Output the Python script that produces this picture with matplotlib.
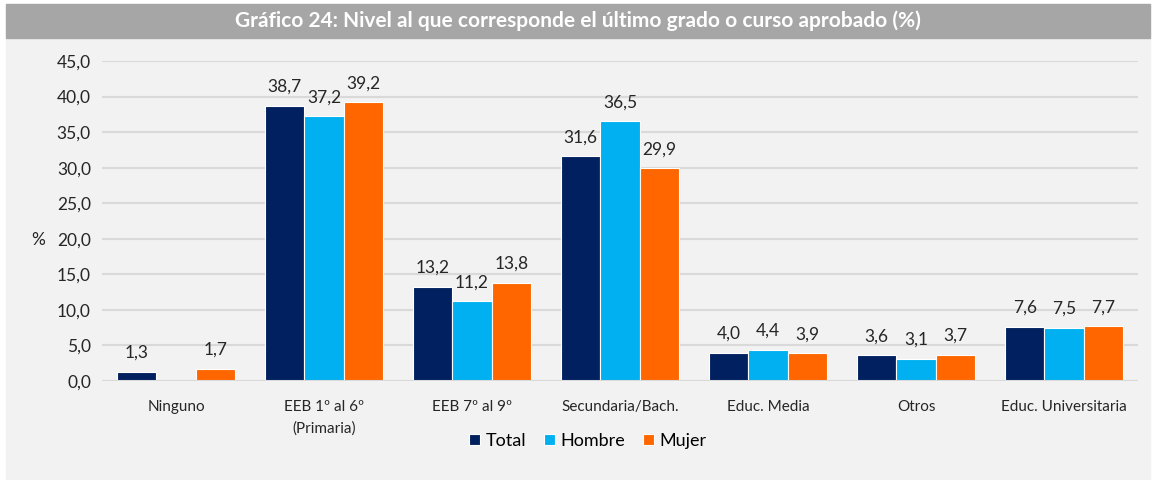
import matplotlib.pyplot as plt
import numpy as np

categories = ['Ninguno', 'EEB 1º al 6º\n(Primaria)', 'EEB 7º al 9º', 'Secundaria/Bach.',
              'Educ. Media', 'Otros', 'Educ. Universitaria']
total = [1.3, 38.7, 13.2, 31.6, 4.0, 3.6, 7.6]
hombre = [None, 37.2, 11.2, 36.5, 4.4, 3.1, 7.5]
mujer = [1.7, 39.2, 13.8, 29.9, 3.9, 3.7, 7.7]
series_names = ['Total', 'Hombre', 'Mujer']
colors = ['#002060', '#00B0F0', '#FF6600']

plt.rcParams['font.family'] = ['Lato', 'DejaVu Sans']

fig = plt.figure(figsize=(11.56, 4.8), dpi=100)
fig.patch.set_facecolor('white')

# grey panel and title bar
fig.add_artist(plt.Rectangle((6 / 1156, 0), 1144 / 1156, 442 / 480,
                             transform=fig.transFigure, color='#F2F2F2', zorder=0))
fig.add_artist(plt.Rectangle((6 / 1156, 442 / 480), 1144 / 1156, 34 / 480,
                             transform=fig.transFigure, color='#A6A6A6', zorder=0))
fig.text(0.5, 459 / 480, 'Gráfico 24: Nivel al que corresponde el último grado o curso aprobado (%)',
         ha='center', va='center', color='white', fontsize=15, fontweight='bold')

ax = fig.add_axes([102 / 1156, (480 - 381) / 480, 1036 / 1156, 320 / 480])
ax.set_facecolor('#F2F2F2')

x = np.arange(len(categories))
w = 0.265
for i, (vals, name, c) in enumerate(zip([total, hombre, mujer], series_names, colors)):
    xs = [xi + (i - 1) * w for xi, v in zip(x, vals) if v is not None]
    vs = [v for v in vals if v is not None]
    bars = ax.bar(xs, vs, width=w, color=c, edgecolor='white', linewidth=0.8,
                  label=name, zorder=3)
    labels = [f'{v:.1f}'.replace('.', ',') for v in vs]
    ax.bar_label(bars, labels=labels, padding=8, fontsize=12.5, color='#262626')

ax.set_xlim(-0.5, len(categories) - 0.5)
ax.set_ylim(0, 45)
ax.set_yticks(np.arange(0, 45.1, 5))
ax.set_yticklabels([f'{t:.1f}'.replace('.', ',') for t in np.arange(0, 45.1, 5)],
                   fontsize=12.5, color='#262626')
ax.set_xticks(x)
ax.set_xticklabels(categories, fontsize=11, color='#262626', linespacing=1.6)
ax.tick_params(length=0)
ax.tick_params(axis='x', pad=14)
ax.tick_params(axis='y', pad=8)
ax.grid(axis='y', color='#D9D9D9', linewidth=1.5, zorder=0)
for s in ax.spines.values():
    s.set_visible(False)
ax.axhline(0, color='#D9D9D9', linewidth=1.5, zorder=4)

fig.text(31 / 1156, (480 - 240) / 480, '%', fontsize=12.5, color='#262626', va='center')

ax.legend(loc='center', bbox_to_anchor=(588 / 1156, (480 - 441) / 480),
          bbox_transform=fig.transFigure, ncol=3, frameon=False, fontsize=13,
          handlelength=0.6, handleheight=0.6, handletextpad=0.3, columnspacing=1.0)

fig.savefig('out.png', dpi=100, facecolor='white')
